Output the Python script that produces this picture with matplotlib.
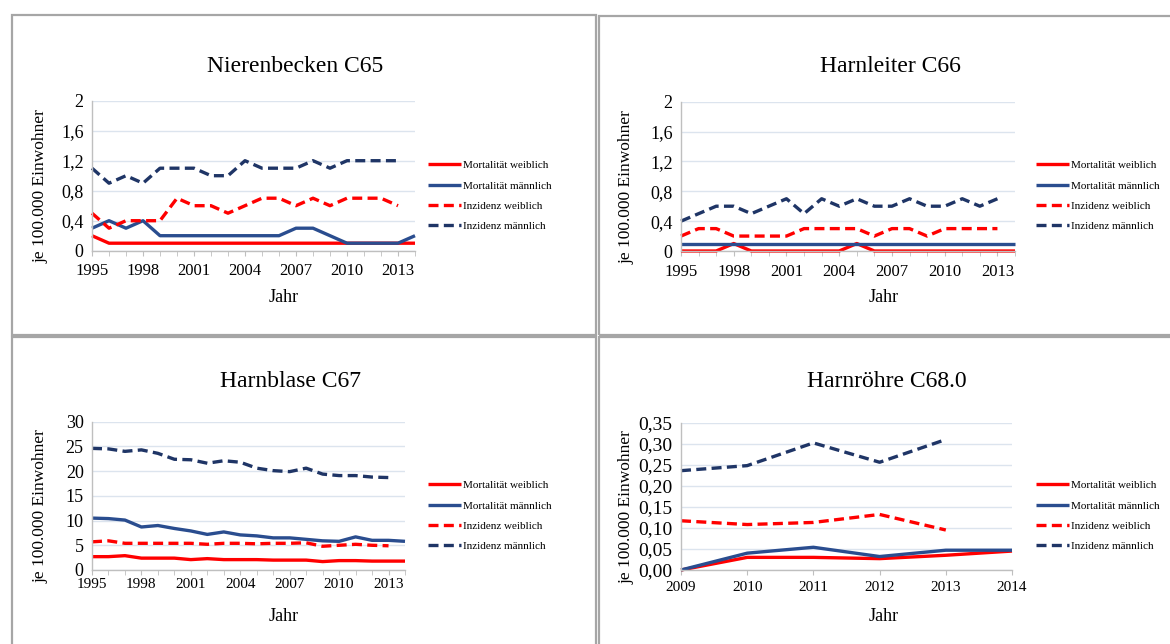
import matplotlib
matplotlib.use("Agg")
import matplotlib.pyplot as plt
from matplotlib.patches import Rectangle

plt.rcParams['font.family'] = ['Liberation Serif', 'DejaVu Serif']

W, H = 1170, 644

# ---- data -------------------------------------------------------------
years_long = list(range(1995, 2015))
years_short = list(range(2009, 2015))

series_labels = ["Mortalität weiblich", "Mortalität männlich",
                 "Inzidenz weiblich", "Inzidenz männlich"]

# Nierenbecken C65
c65_mort_w = [0.2, 0.1, 0.1, 0.1, 0.1, 0.1, 0.1, 0.1, 0.1, 0.1,
              0.1, 0.1, 0.1, 0.1, 0.1, 0.1, 0.1, 0.1, 0.1, 0.1]
c65_mort_m = [0.3, 0.4, 0.3, 0.4, 0.2, 0.2, 0.2, 0.2, 0.2, 0.2,
              0.2, 0.2, 0.3, 0.3, 0.2, 0.1, 0.1, 0.1, 0.1, 0.2]
c65_inz_w = [0.5, 0.3, 0.4, 0.4, 0.4, 0.7, 0.6, 0.6, 0.5, 0.6,
             0.7, 0.7, 0.6, 0.7, 0.6, 0.7, 0.7, 0.7, 0.6]
c65_inz_m = [1.1, 0.9, 1.0, 0.9, 1.1, 1.1, 1.1, 1.0, 1.0, 1.2,
             1.1, 1.1, 1.1, 1.2, 1.1, 1.2, 1.2, 1.2, 1.2]

# Harnleiter C66
c66_mort_w = [0.0, 0.0, 0.0, 0.1, 0.0, 0.0, 0.0, 0.0, 0.0, 0.0,
              0.1, 0.0, 0.0, 0.0, 0.0, 0.0, 0.0, 0.0, 0.0, 0.0]
c66_mort_m = [0.1, 0.1, 0.1, 0.1, 0.1, 0.1, 0.1, 0.1, 0.1, 0.1,
              0.1, 0.1, 0.1, 0.1, 0.1, 0.1, 0.1, 0.1, 0.1, 0.1]
c66_inz_w = [0.2, 0.3, 0.3, 0.2, 0.2, 0.2, 0.2, 0.3, 0.3, 0.3,
             0.3, 0.2, 0.3, 0.3, 0.2, 0.3, 0.3, 0.3, 0.3]
c66_inz_m = [0.4, 0.5, 0.6, 0.6, 0.5, 0.6, 0.7, 0.5, 0.7, 0.6,
             0.7, 0.6, 0.6, 0.7, 0.6, 0.6, 0.7, 0.6, 0.7]

# Harnblase C67
c67_mort_w = [2.7, 2.7, 2.9, 2.4, 2.4, 2.4, 2.1, 2.3, 2.1, 2.1,
              2.1, 2.0, 2.0, 2.0, 1.7, 1.9, 1.9, 1.8, 1.8, 1.8]
c67_mort_m = [10.5, 10.4, 10.1, 8.7, 9.0, 8.4, 7.9, 7.2, 7.7, 7.1,
              6.9, 6.5, 6.5, 6.2, 5.9, 5.8, 6.7, 6.0, 6.0, 5.8]
c67_inz_w = [5.7, 5.9, 5.4, 5.4, 5.4, 5.4, 5.4, 5.2, 5.4, 5.4,
             5.3, 5.4, 5.4, 5.5, 4.8, 5.0, 5.2, 5.0, 4.9]
c67_inz_m = [24.6, 24.5, 24.0, 24.3, 23.6, 22.4, 22.3, 21.6, 22.1, 21.8,
             20.6, 20.1, 19.9, 20.6, 19.4, 19.1, 19.1, 18.8, 18.7]

# Harnröhre C68.0
c68_mort_w = [0.0, 0.030, 0.030, 0.027, 0.035, 0.045]
c68_mort_m = [0.0, 0.040, 0.054, 0.032, 0.047, 0.047]
c68_inz_w = [0.117, 0.108, 0.113, 0.132, 0.095]
c68_inz_m = [0.236, 0.248, 0.302, 0.256, 0.310]

long_ticks = [1995, 1998, 2001, 2004, 2007, 2010, 2013]
short_ticks = years_short

# ---- styling ----------------------------------------------------------
RED = "#FF0000"
BLUE = "#2A4D8F"
NAVY = "#1F3566"
GRID = "#DCE4EE"
SPINE = "#BFBFBF"
BORDER = "#A6A6A6"

styles = [
    dict(color=RED, lw=2.4, ls="-"),
    dict(color=BLUE, lw=2.4, ls="-"),
    dict(color=RED, lw=2.4, ls=(0, (3, 1.6))),
    dict(color=NAVY, lw=2.4, ls=(0, (3, 1.6))),
]

fig = plt.figure(figsize=(W / 100, H / 100), dpi=100)

# panel frames
for (x0, y0, x1, y1) in [(12, 15, 596, 335), (599, 15.5, 1180, 335),
                         (12, 337, 596, 660), (599, 337, 1180, 660)]:
    fig.patches.append(Rectangle((x0 / W, 1 - y1 / H), (x1 - x0) / W, (y1 - y0) / H,
                                 transform=fig.transFigure, fill=False,
                                 edgecolor=BORDER, lw=1.6, zorder=0))


def px_axes(left, right, top, bottom):
    return fig.add_axes([left / W, 1 - bottom / H, (right - left) / W, (bottom - top) / H])


def fmt_de(v, nd):
    if nd == 2:
        return f"{v:.2f}".replace(".", ",")
    s = f"{v:.{nd}f}"
    if "." in s:
        s = s.rstrip("0").rstrip(".")
    return s.replace(".", ",")


panels = [
    dict(box=(92, 415, 100.7, 250.7), title="Nierenbecken C65", tpos=(295, 66),
         x=years_long, data=[c65_mort_w, c65_mort_m, c65_inz_w, c65_inz_m],
         yticks=[0, 0.4, 0.8, 1.2, 1.6, 2.0], nd=1, xticks=long_ticks,
         legend=(428, 160.5), xfs=12, yfs=13, xpad=5.5, jahr=(284, 289), ylab=42),
    dict(box=(681, 1015, 101.7, 251), title="Harnleiter C66", tpos=(890, 66),
         x=years_long, data=[c66_mort_w, c66_mort_m, c66_inz_w, c66_inz_m],
         yticks=[0, 0.4, 0.8, 1.2, 1.6, 2.0], nd=1, xticks=long_ticks,
         legend=(1036, 160.5), xfs=12, yfs=13, xpad=5.5, jahr=(884, 289), ylab=628),
    dict(box=(92, 405, 421.7, 570), title="Harnblase C67", tpos=(290, 382),
         x=years_long, data=[c67_mort_w, c67_mort_m, c67_inz_w, c67_inz_m],
         yticks=[0, 5, 10, 15, 20, 25, 30], nd=0, xticks=long_ticks,
         legend=(428, 480.5), xfs=11, yfs=13, xpad=2.5, jahr=(284, 608), ylab=42),
    dict(box=(681, 1012, 422.7, 570), title="Harnröhre C68.0", tpos=(887, 382),
         x=years_short, data=[c68_mort_w, c68_mort_m, c68_inz_w, c68_inz_m],
         yticks=[0, 0.05, 0.10, 0.15, 0.20, 0.25, 0.30, 0.35], nd=2, xticks=short_ticks,
         legend=(1036, 480.5), xfs=11, yfs=14, xpad=4.5, jahr=(884, 608), ylab=628),
]

for p in panels:
    left, right, top, bottom = p["box"]
    ax = px_axes(left, right, top, bottom)
    wpx, hpx = right - left, bottom - top
    xs = p["x"]
    handles = []
    for vals, st, lab in zip(p["data"], styles, series_labels):
        h, = ax.plot(xs[:len(vals)], vals, label=lab, solid_capstyle="butt",
                     dash_capstyle="butt", **st)
        handles.append(h)
    ax.set_xlim(xs[0], xs[-1])
    ax.set_ylim(p["yticks"][0], p["yticks"][-1])
    ax.set_yticks(p["yticks"])
    ax.set_yticklabels([fmt_de(v, p["nd"]) for v in p["yticks"]], fontsize=p["yfs"])
    ax.set_xticks(xs, minor=True)
    ax.set_xticks(p["xticks"])
    ax.set_xticklabels([str(t) for t in p["xticks"]], fontsize=p["xfs"])
    ax.tick_params(axis="y", length=0, pad=6)
    ax.tick_params(axis="x", which="both", length=3.5, color=SPINE, direction="out",
                   pad=p["xpad"])
    ax.grid(axis="y", color=GRID, lw=1)
    ax.set_axisbelow(True)
    for s in ("top", "right"):
        ax.spines[s].set_visible(False)
    for s in ("left", "bottom"):
        ax.spines[s].set_color(SPINE)
        ax.spines[s].set_linewidth(1)

    ax.set_ylabel("je 100.000 Einwohner", fontsize=12.5)
    ax.yaxis.set_label_coords((p["ylab"] + 7 - left) / wpx, 0.43)
    ax.set_xlabel("Jahr", fontsize=13)
    jx, jy = p["jahr"]
    ax.xaxis.set_label_coords((jx - left) / wpx, (bottom - jy) / hpx)
    for line in ax.get_lines():
        line.set_clip_on(False)

    tx, ty = p["tpos"]
    fig.text(tx / W, 1 - ty / H, p["title"], fontsize=17, ha="center", va="center")

    lx, ly = p["legend"]
    fig.legend(handles=handles, loc="upper left",
               bbox_to_anchor=(lx / W, 1 - ly / H), bbox_transform=fig.transFigure,
               frameon=False, fontsize=8, handlelength=3.0, handletextpad=0.15,
               labelspacing=0.95, borderpad=0, borderaxespad=0)

fig.savefig("out.png", dpi=100, facecolor="white")
